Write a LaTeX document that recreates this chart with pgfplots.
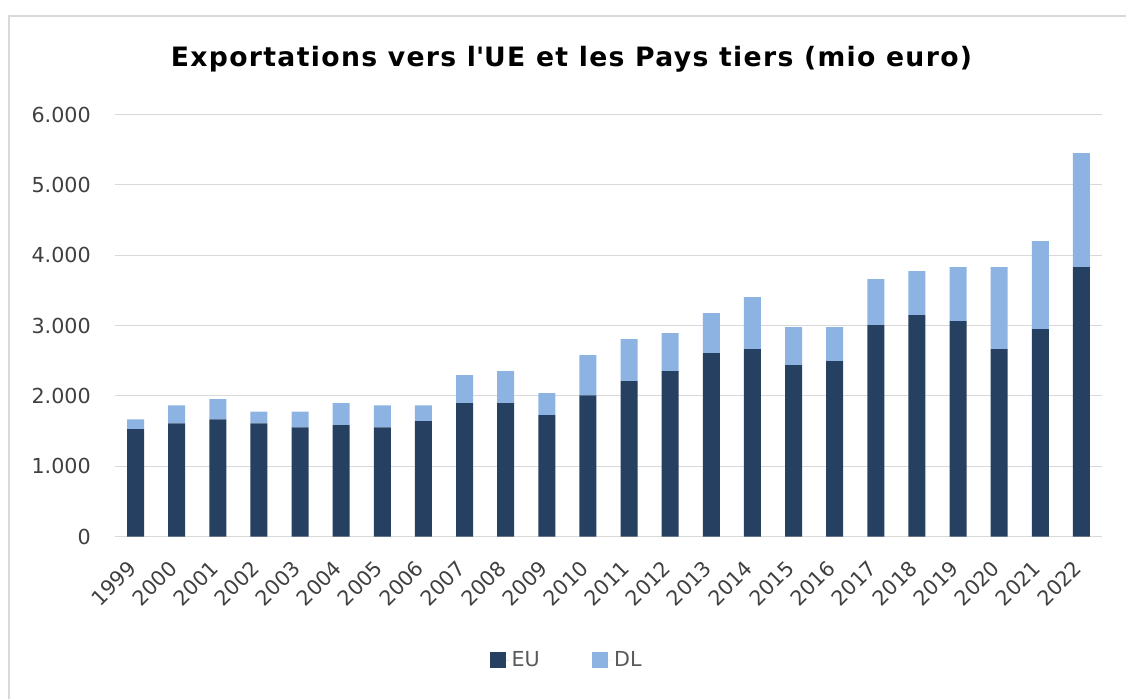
\documentclass[border=0pt]{standalone}
\usepackage{pgfplots}
\pgfplotsset{compat=1.18}
\usepackage{fontspec}
\setmainfont{DejaVu Sans}
\definecolor{euc}{RGB}{38,64,97}
\definecolor{dlc}{RGB}{141,179,226}
\definecolor{gridc}{RGB}{217,217,217}
\definecolor{txt}{RGB}{64,64,64}
\definecolor{legtxt}{RGB}{89,89,89}
\pgfplotstableread{
x year EU DL
0 1999 1525 142
1 2000 1610 256
2 2001 1667 285
3 2002 1610 165
4 2003 1553 222
5 2004 1582 313
6 2005 1553 313
7 2006 1639 227
8 2007 1895 398
9 2008 1895 455
10 2009 1724 313
11 2010 2008 569
12 2011 2208 597
13 2012 2350 540
14 2013 2606 569
15 2014 2663 739
16 2015 2435 541
17 2016 2492 484
18 2017 3004 655
19 2018 3146 626
20 2019 3061 768
21 2020 2663 1166
22 2021 2947 1252
23 2022 3829 1622
}\datatable
\begin{document}
\begin{tikzpicture}
\useasboundingbox (0,0) rectangle (844.5pt,524.25pt);
\draw[gridc, line width=1.1pt] (6.75pt,0) -- (6.75pt,512.25pt) -- (844.5pt,512.25pt);
\node[anchor=base, font=\bfseries\fontsize{20}{24}\selectfont\addfontfeatures{LetterSpace=5}] at (428.6pt,474.2pt) {Exportations vers l\textquotesingle UE et les Pays tiers (mio euro)};
\begin{axis}[
  at={(86.25pt,121.875pt)}, anchor=south west,
  scale only axis, width=740.25pt, height=316.5pt,
  ybar stacked, bar width=12.75pt,
  xmin=-0.5, xmax=23.5, ymin=0, ymax=6000,
  xtick={0,...,23},
  xticklabels={1999,2000,2001,2002,2003,2004,2005,2006,2007,2008,2009,2010,2011,2012,2013,2014,2015,2016,2017,2018,2019,2020,2021,2022},
  ytick={0,1000,...,6000},
  scaled y ticks=false,
  /pgf/number format/.cd, 1000 sep={.}, assume math mode=true,
  /pgfplots/.cd,
  axis line style={draw=none},
  major tick length=0pt,
  ymajorgrids, grid style={gridc, line width=0.9pt},
  ticklabel style={font=\fontsize{15.5}{18}\selectfont, text=txt},
  yticklabel style={anchor=east, inner sep=0pt, xshift=-18pt},
  xticklabel style={xshift=-2.5pt, yshift=-21pt, rotate=45, anchor=east, inner sep=0pt},
  legend columns=-1,
  legend style={at={(0.458,-0.293)}, anchor=center, draw=none, fill=none,
    font=\fontsize{15.5}{18}\selectfont, text=legtxt,
    /tikz/every even column/.append style={column sep=37.5pt}},
  legend image code/.code={\fill[#1] (0pt,-6pt) rectangle (12pt,6pt); \path (0pt,0pt) -- (14.25pt,0pt);},
]
\addplot[fill=euc, draw=none] table[x=x, y=EU] {\datatable};
\addplot[fill=dlc, draw=none] table[x=x, y=DL] {\datatable};
\legend{EU,DL}
\end{axis}
\end{tikzpicture}
\end{document}
